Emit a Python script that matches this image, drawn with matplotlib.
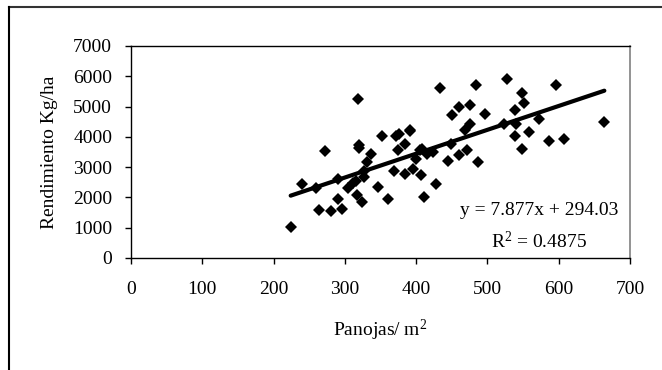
import numpy as np
import matplotlib
matplotlib.use('Agg')
import matplotlib.pyplot as plt
from matplotlib.lines import Line2D

# panicles per m2 vs yield
panojas = [224, 240, 259, 264, 272, 280, 290, 291, 296, 304,
           311, 315, 317, 319, 320, 320, 324, 327, 327, 331,
           336, 347, 352, 360, 369, 372, 376, 375, 384, 384,
           391, 392, 396, 400, 407, 406, 408, 411, 415, 424,
           428, 434, 444, 449, 451, 460, 460, 468, 471, 475,
           475, 484, 487, 496, 523, 528, 539, 540, 539, 548,
           551, 548, 559, 573, 586, 596, 608, 664]
rendimiento = [1030, 2440, 2300, 1570, 3540, 1540, 2620, 1940, 1620, 2310,
               2470, 2530, 2080, 5240, 3730, 3620, 1850, 2680, 2860, 3170,
               3440, 2360, 4040, 1950, 2860, 4030, 4080, 3570, 2780, 3780,
               4240, 4200, 2940, 3270, 2730, 3550, 3600, 2010, 3440, 3490,
               2440, 5600, 3200, 3760, 4720, 4990, 3400, 4230, 3570, 5040,
               4440, 5720, 3170, 4750, 4430, 5910, 4900, 4420, 4030, 5450,
               5130, 3590, 4160, 4580, 3860, 5720, 3920, 4490]
slope = 7.877
intercept = 294.03
r2 = 0.4875
xticks = [0, 100, 200, 300, 400, 500, 600, 700]
yticks = [0, 1000, 2000, 3000, 4000, 5000, 6000, 7000]

plt.rcParams['font.family'] = ['Liberation Serif', 'DejaVu Serif']
plt.rcParams['mathtext.fontset'] = 'custom'
plt.rcParams['mathtext.rm'] = 'Liberation Serif'
plt.rcParams['mathtext.it'] = 'Liberation Serif:italic'

fs = 14

fig = plt.figure(figsize=(6.62, 3.70), dpi=100)
ax = fig.add_axes([131 / 662, 1 - 258 / 370, (630 - 131) / 662, (258 - 46) / 370])

ax.plot(panojas, rendimiento, 'D', color='black', markersize=6, markeredgewidth=0)
xl = np.array([min(panojas), max(panojas)])
ax.plot(xl, slope * xl + intercept, '-', color='black', lw=3, solid_capstyle='round')

ax.set_xlim(0, 700)
ax.set_ylim(0, 7000)
ax.set_xticks(xticks)
ax.set_yticks(yticks)
ax.tick_params(direction='out', length=4.5, width=1, labelsize=fs, colors='black')
ax.tick_params(axis='x', pad=12)
ax.tick_params(axis='y', pad=9)

for s in ['left', 'bottom', 'top']:
    ax.spines[s].set_color('black')
    ax.spines[s].set_linewidth(1)
ax.spines['right'].set_color('#808080')
ax.spines['right'].set_linewidth(1.2)

ax.set_xlabel('Panojas/ m$\\mathrm{^2}$', fontsize=fs, labelpad=14)
ax.set_ylabel('Rendimiento Kg/ha', fontsize=fs, labelpad=11)

ax.text(572, 1560, 'y = %.3fx + %.2f' % (slope, intercept), fontsize=fs,
        ha='center', va='center')
ax.text(572, 560, 'R$\\mathrm{^2}$ = %.4f' % r2, fontsize=fs, ha='center', va='center')

# chart area border (partially visible)
fig.add_artist(Line2D([9 / 662, 1], [1 - 7 / 370, 1 - 7 / 370], color='#333333', lw=1.5))
fig.add_artist(Line2D([9 / 662, 9 / 662], [0, 1 - 7 / 370], color='black', lw=1.5))

fig.savefig('out.png', dpi=100)
